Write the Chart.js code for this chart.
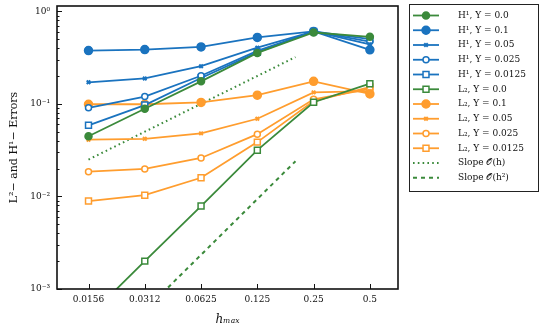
<!DOCTYPE html>
<html>
<head>
<meta charset="utf-8">
<script src="https://cdn.jsdelivr.net/npm/chart.js@4.4.0/dist/chart.umd.min.js"></script>
<style>
  html, body { margin: 0; padding: 0; background: #fff; }
  #wrap { width: 541px; height: 327px; }
</style>
</head>
<body>
<div id="wrap"><canvas id="errChart" width="541" height="327"></canvas></div>
<script>
// === Data ===
const hValues = [0.015625, 0.03125, 0.0625, 0.125, 0.25, 0.5];
const hTickLabels = ["0.0156", "0.0312", "0.0625", "0.125", "0.25", "0.5"];
const upsilons = ["0.0", "0.1", "0.05", "0.025", "0.0125"];

const h1Ups00 = [0.0447, 0.0885, 0.175, 0.355, 0.59, 0.53];
const h1Ups01 = [0.376, 0.386, 0.412, 0.522, 0.605, 0.383];
const h1Ups005 = [0.171, 0.188, 0.255, 0.405, 0.605, 0.44];
const h1Ups0025 = [0.0906, 0.12, 0.201, 0.373, 0.605, 0.47];
const h1Ups00125 = [0.0586, 0.097, 0.19, 0.36, 0.605, 0.5];

const l2Ups00 = [0.0005, 0.002, 0.00787, 0.0316, 0.104, 0.165];
const l2Ups01 = [0.099, 0.099, 0.1035, 0.124, 0.175, 0.128];
const l2Ups005 = [0.041, 0.0419, 0.048, 0.069, 0.133, 0.137];
const l2Ups0025 = [0.0185, 0.0198, 0.026, 0.047, 0.112, 0.145];
const l2Ups00125 = [0.00891, 0.0103, 0.0159, 0.0386, 0.107, 0.152];

const slopeH = [0.015625, 0.2];
const slopeOrder1 = [0.025, 0.32];
const slopeOrder2 = [0.000146, 0.024];

const GREEN = "#3b8a3b";
const BLUE = "#1a73bf";
const ORANGE = "#ff9d2e";
const SERIF = "'DejaVu Serif', 'Liberation Serif', serif";

function pts(xs, ys) {
  return xs.map((x, i) => ({ x: x, y: ys[i] }));
}

function series(label, values, color, style, radius, fill) {
  return {
    label: label,
    data: pts(hValues, values),
    borderColor: color,
    backgroundColor: fill,
    borderWidth: 1.8,
    pointStyle: style,
    pointRadius: radius,
    pointBorderWidth: style === "crossRot" ? 2 : 1.5,
    pointBorderColor: color,
    pointBackgroundColor: fill,
    tension: 0,
  };
}

const datasets = [
  series("H¹, Υ = " + upsilons[0], h1Ups00, GREEN, "circle", 3.5, GREEN),
  series("H¹, Υ = " + upsilons[1], h1Ups01, BLUE, "circle", 4, BLUE),
  series("H¹, Υ = " + upsilons[2], h1Ups005, BLUE, "crossRot", 2.5, BLUE),
  series("H¹, Υ = " + upsilons[3], h1Ups0025, BLUE, "circle", 3, "#fff"),
  series("H¹, Υ = " + upsilons[4], h1Ups00125, BLUE, "rect", 4.2, "#fff"),
  series("L₂, Υ = " + upsilons[0], l2Ups00, GREEN, "rect", 4.2, "#fff"),
  series("L₂, Υ = " + upsilons[1], l2Ups01, ORANGE, "circle", 4, ORANGE),
  series("L₂, Υ = " + upsilons[2], l2Ups005, ORANGE, "crossRot", 2.5, ORANGE),
  series("L₂, Υ = " + upsilons[3], l2Ups0025, ORANGE, "circle", 3, "#fff"),
  series("L₂, Υ = " + upsilons[4], l2Ups00125, ORANGE, "rect", 4.2, "#fff"),
  {
    label: "Slope 𝒪(h)",
    data: pts(slopeH, slopeOrder1),
    borderColor: GREEN,
    borderWidth: 2,
    borderDash: [1.6, 3.2],
    pointRadius: 0,
  },
  {
    label: "Slope 𝒪(h²)",
    data: pts(slopeH, slopeOrder2),
    borderColor: GREEN,
    borderWidth: 2,
    borderDash: [4, 4],
    pointRadius: 0,
  },
];

// === marker helper for the legend ===
function drawMarker(ctx, ds, x, y) {
  const r = ds.pointRadius || 0;
  if (!r) return;
  ctx.save();
  ctx.setLineDash([]);
  ctx.lineWidth = ds.pointBorderWidth;
  ctx.strokeStyle = ds.pointBorderColor;
  ctx.fillStyle = ds.pointBackgroundColor;
  ctx.beginPath();
  if (ds.pointStyle === "circle") {
    ctx.arc(x, y, r, 0, Math.PI * 2);
    ctx.fill();
    ctx.stroke();
  } else if (ds.pointStyle === "rect") {
    const s = r * Math.SQRT1_2;
    ctx.rect(x - s, y - s, 2 * s, 2 * s);
    ctx.fill();
    ctx.stroke();
  } else {
    const s = r * Math.SQRT1_2;
    ctx.moveTo(x - s, y - s);
    ctx.lineTo(x + s, y + s);
    ctx.moveTo(x + s, y - s);
    ctx.lineTo(x - s, y + s);
    ctx.stroke();
  }
  ctx.restore();
}

const framePlugin = {
  id: "frame",
  afterDraw(chart) {
    const { ctx, chartArea: a, scales } = chart;
    const xs = scales.x, ys = scales.y;
    ctx.save();
    ctx.strokeStyle = "#111";
    ctx.lineWidth = 1;
    ctx.beginPath();
    for (let e = -3; e <= 0; e++) {
      for (let k = 1; k < 10; k++) {
        const v = k * Math.pow(10, e);
        if (v < ys.min || v > ys.max) continue;
        const py = Math.round(ys.getPixelForValue(v)) + 0.5;
        const len = k === 1 ? 5 : 2.5;
        ctx.moveTo(a.left, py);
        ctx.lineTo(a.left + len, py);
      }
    }
    hValues.forEach((h) => {
      const px = Math.round(xs.getPixelForValue(h)) + 0.5;
      ctx.moveTo(px, a.bottom);
      ctx.lineTo(px, a.bottom - 5);
    });
    ctx.stroke();
    ctx.lineWidth = 1.6;
    ctx.strokeRect(a.left, a.top, a.right - a.left, a.bottom - a.top);
    ctx.restore();
  },
};

const legendPlugin = {
  id: "sideLegend",
  afterDraw(chart) {
    const ctx = chart.ctx;
    const box = { x: 409.5, y: 4.5, w: 129, h: 187 };
    ctx.save();
    ctx.fillStyle = "#fff";
    ctx.fillRect(box.x, box.y, box.w, box.h);
    ctx.strokeStyle = "#222";
    ctx.lineWidth = 1;
    ctx.strokeRect(box.x, box.y, box.w, box.h);
    ctx.font = "9px " + SERIF;
    ctx.textBaseline = "middle";
    chart.data.datasets.forEach((ds, i) => {
      const y = 15.5 + i * 14.75;
      ctx.save();
      ctx.strokeStyle = ds.borderColor;
      ctx.lineWidth = ds.borderWidth;
      ctx.setLineDash(ds.borderDash || []);
      ctx.beginPath();
      ctx.moveTo(413, y);
      ctx.lineTo(439, y);
      ctx.stroke();
      ctx.restore();
      drawMarker(ctx, ds, 426, y);
      ctx.fillStyle = "#111";
      ctx.fillText(ds.label, 458, y);
    });
    ctx.restore();
  },
};

const isDecade = (v) => Math.abs(Math.log10(v) - Math.round(Math.log10(v))) < 1e-9;
const supers = { "-": "⁻", "0": "⁰", "1": "¹", "2": "²", "3": "³" };

new Chart(document.getElementById("errChart").getContext("2d"), {
  type: "line",
  data: { datasets: datasets },
  plugins: [framePlugin, legendPlugin],
  options: {
    responsive: false,
    devicePixelRatio: 1,
    animation: false,
    layout: { padding: { top: 2, right: 143, left: 0, bottom: 0 } },
    plugins: { legend: { display: false }, tooltip: { enabled: false } },
    scales: {
      x: {
        type: "logarithmic",
        min: 0.0106,
        max: 0.707,
        grid: { display: false, drawTicks: false },
        border: { display: false },
        afterBuildTicks: (s) => {
          s.ticks = hValues.map((v) => ({ value: v }));
        },
        afterFit: (s) => {
          s.height = 38;
          s.paddingLeft = 0;
          s.paddingRight = 0;
        },
        ticks: {
          autoSkip: false,
          maxRotation: 0,
          padding: 5,
          color: "#111",
          font: { family: SERIF, size: 9 },
          callback: (v, i) => hTickLabels[i],
        },
        title: {
          display: true,
          text: "hₘₐₓ",
          color: "#111",
          padding: { top: 2, bottom: 0 },
          font: { family: SERIF, size: 12, style: "italic" },
        },
      },
      y: {
        type: "logarithmic",
        min: 0.001,
        max: 1.14,
        grid: { display: false, drawTicks: false },
        border: { display: false },
        afterFit: (s) => {
          s.width = 57;
          s.paddingTop = 0;
          s.paddingBottom = 0;
        },
        ticks: {
          autoSkip: false,
          padding: 7,
          color: "#111",
          font: { family: SERIF, size: 9 },
          callback: (v) =>
            isDecade(v)
              ? "10" + String(Math.round(Math.log10(v))).split("").map((c) => supers[c]).join("")
              : "",
        },
        title: {
          display: true,
          text: "L²− and H¹− Errors",
          color: "#111",
          padding: { top: 8, bottom: 0 },
          font: { family: SERIF, size: 11 },
        },
      },
    },
  },
});
</script>
</body>
</html>
